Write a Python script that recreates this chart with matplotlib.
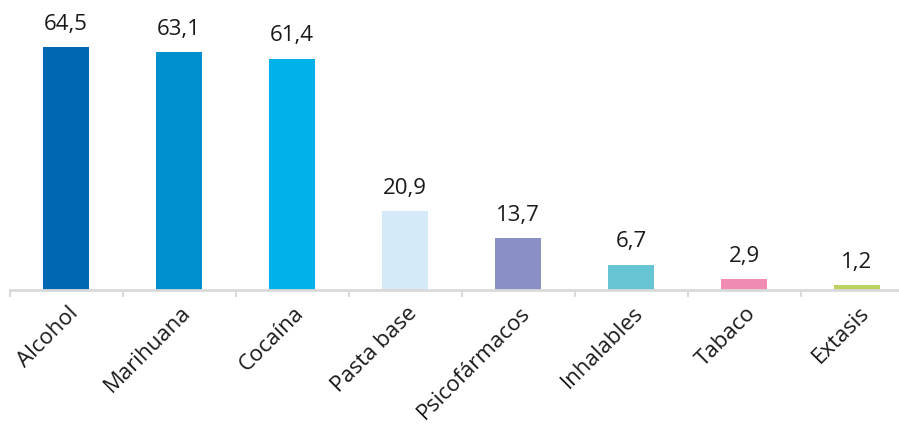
import matplotlib
matplotlib.use("Agg")
import matplotlib.pyplot as plt
from matplotlib.ticker import FixedLocator
import matplotlib.transforms as mtransforms

categories = ["Alcohol", "Marihuana", "Cocaína", "Pasta base", "Psicofármacos", "Inhalables", "Tabaco", "Extasis"]
values = [64.5, 63.1, 61.4, 20.9, 13.7, 6.7, 2.9, 1.2]
colors = ["#0068B3", "#0090D0", "#00B2EA", "#D5EAF8", "#8A90C4", "#66C4D5", "#F08CB4", "#BBD35E"]

plt.rcParams['font.family'] = ['Open Sans', 'DejaVu Sans']

fig = plt.figure(figsize=(8.99, 4.25), dpi=100)
ax = fig.add_axes([9.5/899, (425-290)/425, (913.5-9.5)/899, 290/425])

x = list(range(len(categories)))
ax.bar(x, values, width=0.41, color=colors)
for xi, v in zip(x, values):
    ax.annotate(f"{v:.1f}".replace(".", ","), (xi, v), xytext=(0, 9), textcoords="offset points",
                ha="center", va="bottom", fontsize=16, color="#1a1a1a")

ax.set_xlim(-0.5, 7.5)
ax.set_ylim(0, 77)
ax.set_yticks([])
for s in ["top", "right", "left"]:
    ax.spines[s].set_visible(False)
ax.spines["bottom"].set_color("#D9D9D9")
ax.spines["bottom"].set_linewidth(2)

ax.set_xticks(x)
ax.set_xticklabels(categories, rotation=45, ha="right", rotation_mode="anchor", fontsize=16, color="#1a1a1a")
ax.tick_params(axis="x", which="major", length=0, pad=9)
ax.xaxis.set_minor_locator(FixedLocator([i - 0.5 for i in range(len(categories) + 1)]))
ax.tick_params(axis="x", which="minor", length=5, width=1.5, color="#D9D9D9")

offset = mtransforms.ScaledTranslation(1/72, 0, fig.dpi_scale_trans)
for lbl in ax.get_xticklabels():
    lbl.set_transform(lbl.get_transform() + offset)

fig.savefig("out.png", dpi=100)
